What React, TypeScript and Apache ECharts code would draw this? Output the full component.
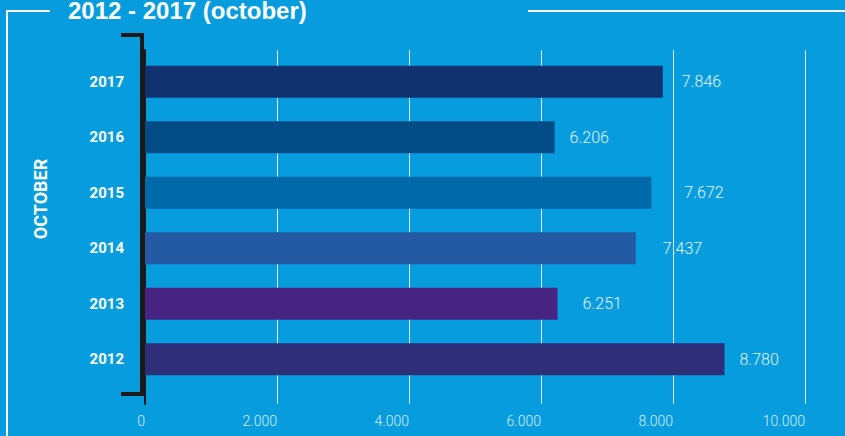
import React, { useEffect, useRef } from "react";
import * as echarts from "echarts";

const categories = ["2012", "2013", "2014", "2015", "2016", "2017"];
const values = [8780, 6251, 7437, 7672, 6206, 7846];
const barColors = ["#2E2D78", "#472482", "#2358A3", "#0069AA", "#014C87", "#10336F"];
const labelGaps = [15, 25, 27, 33, 15, 19];
const xTicks = [0, 2000, 4000, 6000, 8000, 10000];
const title = "2012 - 2017 (october)";
const sideTitle = "OCTOBER";

const fmt = (v: number) => {
  const s = Math.round(v).toString();
  return s.replace(/\B(?=(\d{3})+(?!\d))/g, ".");
};

export default function App() {
  const ref = useRef<HTMLDivElement>(null);
  useEffect(() => {
    if (!ref.current) return;
    const chart = echarts.init(ref.current, null, { renderer: "svg" });
    const bg = "#079CDE";
    chart.setOption({
      animation: false,
      backgroundColor: bg,
      grid: [
        { left: 145, right: 40, top: 54, bottom: 49 },
        { left: 145, right: 40, top: 50, bottom: 32 },
      ],
      xAxis: [
        {
          gridIndex: 0, type: "value", min: xTicks[0], max: xTicks[xTicks.length - 1], interval: 2000,
          axisLine: { show: false }, axisTick: { show: false }, axisLabel: { show: false }, splitLine: { show: false },
        },
        {
          gridIndex: 1, type: "value", min: xTicks[0], max: xTicks[xTicks.length - 1], interval: 2000,
          axisLine: { show: false }, axisTick: { show: false },
          axisLabel: {
            align: "right", margin: 10, color: "#D4EEFA", fontSize: 14,
            fontFamily: "Roboto", fontWeight: 300, formatter: (v: number) => fmt(v),
          },
          splitLine: { show: true, lineStyle: { color: "rgba(255,255,255,0.85)", width: 1 } },
        },
      ],
      yAxis: [
        {
          gridIndex: 0, type: "category", data: categories,
          axisLine: { show: false }, axisTick: { show: false },
          axisLabel: {
            color: "#FFFFFF", fontSize: 15, fontWeight: "bold", margin: 21,
            fontFamily: "Roboto, sans-serif",
          },
        },
        {
          gridIndex: 1, type: "value", min: 0, max: 1, show: true,
          axisLine: { show: true, onZero: false, lineStyle: { color: "#1A1A1A", width: 2 } },
          axisTick: { show: false }, axisLabel: { show: false }, splitLine: { show: false },
        },
      ],
      series: [
        {
          type: "bar",
          xAxisIndex: 0,
          yAxisIndex: 0,
          barWidth: 32,
          z: 3,
          data: values.map((v, i) => ({
            value: v,
            itemStyle: { color: barColors[i] },
            label: { distance: labelGaps[i] },
          })),
          label: {
            show: true, position: "right", color: "#E2F4FC", fontSize: 16,
            fontFamily: "Roboto", fontWeight: 300,
            formatter: (p: any) => fmt(p.value),
          },
        },
      ],
      graphic: [
        { type: "line", shape: { x1: 7, y1: 11, x2: 7, y2: 436 }, style: { stroke: "#FFFFFF", lineWidth: 2 } },
        { type: "line", shape: { x1: 6, y1: 11, x2: 50, y2: 11 }, style: { stroke: "#FFFFFF", lineWidth: 2 } },
        { type: "line", shape: { x1: 528, y1: 11, x2: 845, y2: 11 }, style: { stroke: "#FFFFFF", lineWidth: 2 } },
        {
          type: "text", left: 68, top: -2,
          style: {
            text: title, fill: "#FFFFFF", fontSize: 24, fontWeight: "bold",
            fontFamily: "'Liberation Sans', Arial, sans-serif",
          },
        },
        {
          type: "text", x: 40, y: 199, rotation: Math.PI / 2,
          style: {
            text: sideTitle, fill: "#FFFFFF", fontSize: 18, fontWeight: "bold",
            fontFamily: "Roboto, sans-serif",
            align: "center", verticalAlign: "middle",
          },
        },
        {
          type: "polyline", z: 100,
          shape: { points: [[121, 35], [142, 35], [142, 394], [121, 394]] },
          style: { stroke: "#1A1A1A", lineWidth: 4, fill: "none" },
        },
      ],
    });
    return () => chart.dispose();
  }, []);
  return <div ref={ref} style={{ width: 845, height: 436, position: "absolute", left: 0, top: 0 }} />;
}
